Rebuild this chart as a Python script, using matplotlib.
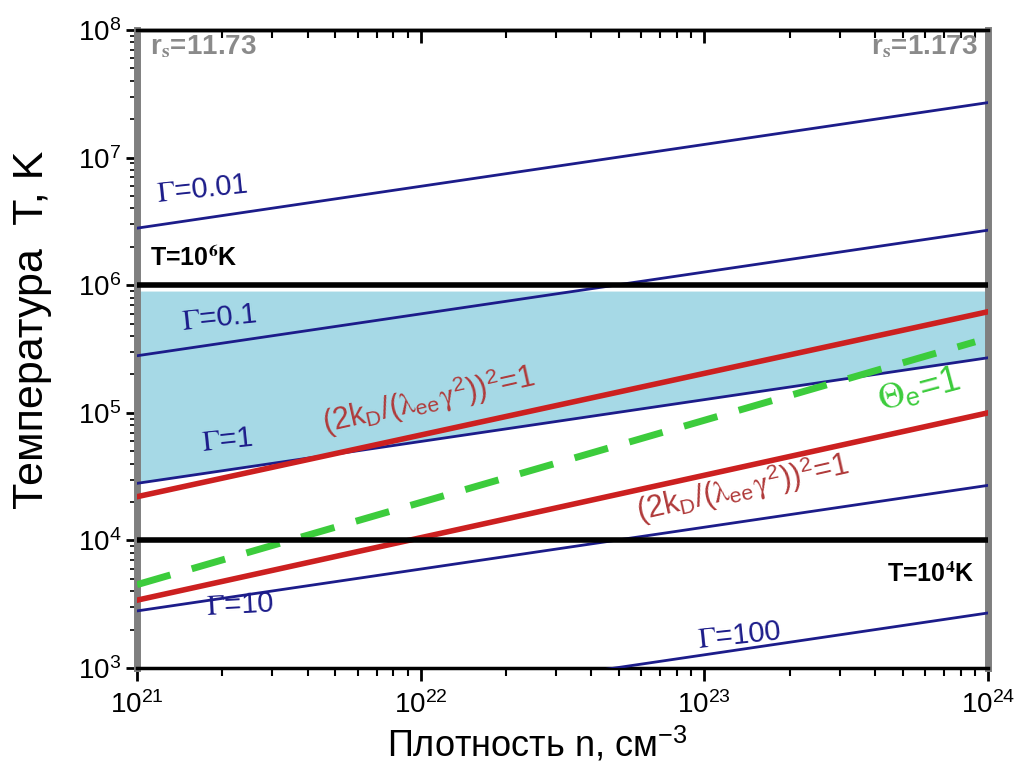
import numpy as np
import matplotlib
matplotlib.use('Agg')
import matplotlib.pyplot as plt

plt.rcParams['font.family'] = ['Liberation Sans', 'DejaVu Sans']
plt.rcParams['mathtext.fontset'] = 'stix'

# data (line end points, straight in log-log)
n_ends = [1e21, 1e24]
gamma_labels = ['0.01', '0.1', '1', '10', '100']
gamma_T = [[2.8e6, 2.7e7], [2.8e5, 2.7e6], [2.8e4, 2.7e5], [2.8e3, 2.7e4], [2.8e2, 2.7e3]]
red_upper_T = [2.2e4, 6.2e5]
red_lower_T = [3.4e3, 1.0e5]
theta_n = [1e21, 9e23]
theta_T = [4.5e3, 3.6e5]
T_limits = [1e4, 1e6]
fill_top = 9e5

navy = '#1c1c8a'
red = '#cc2020'
darkred = '#b03a3a'
green = '#3ccc3c'

fig = plt.figure(figsize=(10.18, 7.78), dpi=100)
ax = fig.add_axes([0.1346, 0.1414, 0.836, 0.8200])
ax.set_xscale('log')
ax.set_yscale('log')
ax.set_xlim(1e21, 1e24)
ax.set_ylim(1e3, 1e8)

# shaded region between Gamma=1 and T=10^6 K
ax.fill_between(n_ends, gamma_T[2], [fill_top, fill_top], color='#a6d9e6', lw=0, zorder=1)

for T in gamma_T:
    ax.plot(n_ends, T, color=navy, lw=2, zorder=3)
ax.plot(n_ends, red_upper_T, color=red, lw=4, zorder=4)
ax.plot(n_ends, red_lower_T, color=red, lw=4, zorder=4)
ax.plot(theta_n, theta_T, color=green, lw=5, dashes=(5, 3.2), zorder=5)
for T in T_limits:
    ax.axhline(T, color='black', lw=4, zorder=6)

# labels
tk = dict(color=navy, fontsize=21, va='center', ha='left', zorder=7)
ax.text(1.16e21, 5.6e6, r'$\Gamma$=' + gamma_labels[0], rotation=6, **tk)
ax.text(1.42e21, 5.5e5, r'$\Gamma$=' + gamma_labels[1], rotation=6, **tk)
ax.text(1.67e21, 6.1e4, r'$\Gamma$=' + gamma_labels[2], rotation=6, **tk)
ax.text(1.74e21, 3.1e3, r'$\Gamma$=' + gamma_labels[3], rotation=3, **tk)
ax.text(9.4e22, 1.8e3, r'$\Gamma$=' + gamma_labels[4], rotation=6, **tk)

ax.text(1.11e21, 1.63e6, r'T=10$^\mathbf{6}$K', fontsize=18, fontweight='bold',
        va='center', ha='left', zorder=7)
ax.text(9.0e23, 5.4e3, r'T=10$^\mathbf{4}$K', fontsize=18, fontweight='bold',
        va='center', ha='right', zorder=7)

red_lab = r'(2k$_\mathdefault{D}$/($\mathrm{\lambda}_\mathdefault{ee}\mathrm{\gamma}^\mathdefault{2}$))$^\mathdefault{2}$=1'
ax.text(4.6e21, 6.9e4, red_lab, color=darkred, fontsize=22, rotation=12.7,
        rotation_mode='anchor', ha='left', va='baseline', zorder=7)
ax.text(5.9e22, 1.42e4, red_lab, color=darkred, fontsize=22, rotation=12.7,
        rotation_mode='anchor', ha='left', va='baseline', zorder=7)
ax.text(4.2e23, 1.05e5, r'$\Theta_\mathdefault{e}$=1', color=green, fontsize=26,
        rotation=15, rotation_mode='anchor', ha='left', va='baseline', zorder=7)

ax.text(1.11e21, 7.4e7, r'r$_\mathbf{s}$=11.73', color='#8a8a8a', fontsize=20,
        fontweight='bold', ha='left', va='center', zorder=7)
ax.text(9.2e23, 7.4e7, r'r$_\mathbf{s}$=1.173', color='#8a8a8a', fontsize=20,
        fontweight='bold', ha='right', va='center', zorder=7)

# frame and ticks
ax.spines['left'].set_color('#7f7f7f')
ax.spines['right'].set_color('#7f7f7f')
ax.spines['left'].set_linewidth(5)
ax.spines['right'].set_linewidth(5)
ax.spines['top'].set_linewidth(2.5)
ax.spines['bottom'].set_linewidth(2.5)
ax.tick_params(axis='x', which='both', top=False, bottom=True, direction='out', labelsize=20)
ax.tick_params(axis='x', which='major', length=9, width=2)
ax.tick_params(axis='x', which='minor', length=6, width=1.5)
ax.tick_params(axis='y', which='both', left=True, right=False, direction='out', labelsize=20)
ax.tick_params(axis='y', which='major', length=8, width=2)
ax.tick_params(axis='y', which='minor', length=5, width=1.2)
ax.xaxis.set_tick_params(which='both', pad=8)

top = ax.secondary_xaxis('top')
top.tick_params(axis='x', which='both', direction='in', labeltop=False)
top.tick_params(axis='x', which='major', length=9, width=2)
top.tick_params(axis='x', which='minor', length=6, width=1.5)
top.spines['top'].set_linewidth(2.5)

ax.set_xlabel(r'Плотность n, см$^\mathdefault{-3}$', fontsize=26)
ax.xaxis.set_label_coords(0.47, -0.088)
ax.set_ylabel('Температура  T, K', fontsize=31)
ax.yaxis.set_label_coords(-0.1, 0.53)

fig.savefig('out.png', dpi=100)
